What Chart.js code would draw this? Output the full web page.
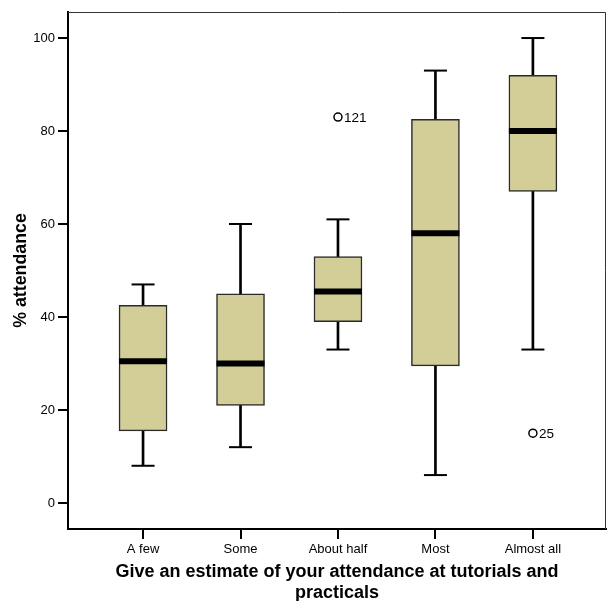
<!DOCTYPE html>
<html><head><meta charset="utf-8">
<script src="https://cdn.jsdelivr.net/npm/chart.js@4/dist/chart.umd.min.js"></script>
<style>html,body{margin:0;padding:0;background:#fff;}#wrap{width:607px;height:601px;}</style>
</head><body><div id="wrap"><canvas id="c"></canvas></div>
<script>
const categories = ["A few", "Some", "About half", "Most", "Almost all"];
const whiskerLow  = [8, 12, 33, 6, 33];
const q1          = [15.5, 21, 39, 29.5, 67];
const median      = [30.5, 30, 45.5, 58, 80];
const q3          = [42.5, 45, 53, 82.5, 92];
const whiskerHigh = [47, 60, 61, 93, 100];
const outlierCat   = [2, 4];
const outlierValue = [83, 15];
const outlierLabel = ["121", "25"];
const yTicks = [0, 20, 40, 60, 80, 100];

const FONT = 'Arial, "Liberation Sans", Helvetica, sans-serif';
const pos = i => i + 1;

const outlierLabels = {
  id: 'outlierLabels',
  afterDatasetsDraw(chart) {
    const ctx = chart.ctx;
    const meta = chart.getDatasetMeta(chart.data.datasets.findIndex(d => d.label === 'outliers'));
    ctx.save();
    ctx.font = '13.5px ' + FONT;
    ctx.fillStyle = '#000';
    ctx.textBaseline = 'middle';
    ctx.textAlign = 'left';
    meta.data.forEach((pt, i) => { ctx.fillText(outlierLabel[i], pt.x + 6, pt.y + 1); });
    const a = chart.chartArea;
    ctx.strokeStyle = '#333';
    ctx.lineWidth = 1;
    ctx.beginPath();
    ctx.moveTo(a.left, a.top + 0.5); ctx.lineTo(a.right - 0.5, a.top + 0.5); ctx.lineTo(a.right - 0.5, a.bottom);
    ctx.stroke();
    ctx.restore();
  }
};

new Chart(document.getElementById('c'), {
  data: {
    datasets: [
      { label: 'outliers', type: 'line', showLine: false, order: 0,
        data: outlierCat.map((c, i) => ({x: pos(c), y: outlierValue[i]})),
        pointStyle: 'circle', pointRadius: 4, pointBorderWidth: 1.5,
        pointBackgroundColor: '#fff', pointBorderColor: '#000' },
      { label: 'median', type: 'line', showLine: false, order: 1,
        data: median.map((v, i) => ({x: pos(i), y: v})),
        pointStyle: 'line', pointRadius: 24, pointBorderWidth: 6,
        pointBorderColor: '#000', pointBackgroundColor: '#000' },
      { label: 'box', type: 'bar', order: 2, grouped: false,
        data: q1.map((v, i) => ({x: pos(i), y: [v, q3[i]]})),
        barThickness: 48, backgroundColor: '#D3CE98', borderColor: '#2a2a2a',
        borderWidth: 1.5, borderSkipped: false },
      { label: 'whisker', type: 'bar', order: 3, grouped: false,
        data: whiskerLow.map((v, i) => ({x: pos(i), y: [v, whiskerHigh[i]]})),
        barThickness: 2, backgroundColor: '#000', borderWidth: 0 },
      { label: 'capLow', type: 'line', showLine: false, order: 4,
        data: whiskerLow.map((v, i) => ({x: pos(i), y: v})),
        pointStyle: 'line', pointRadius: 11.5, pointBorderWidth: 2, pointBorderColor: '#000' },
      { label: 'capHigh', type: 'line', showLine: false, order: 4,
        data: whiskerHigh.map((v, i) => ({x: pos(i), y: v})),
        pointStyle: 'line', pointRadius: 11.5, pointBorderWidth: 2, pointBorderColor: '#000' }
    ]
  },
  options: {
    responsive: true, maintainAspectRatio: false, animation: false,
    layout: { autoPadding: false, padding: { top: 12, right: 1, left: 0, bottom: 0 } },
    plugins: { legend: { display: false }, tooltip: { enabled: false } },
    elements: { point: { hoverRadius: 0 } },
    scales: {
      x: {
        type: 'linear', position: 'bottom', min: 0.23, max: 5.75, offset: false,
        afterFit: s => { s.height = 72; s.paddingLeft = 0; s.paddingRight = 0; },
        afterBuildTicks: s => { s.ticks = categories.map((c, i) => ({value: pos(i)})); },
        ticks: { callback: v => categories[v - 1], font: { family: FONT, size: 13 }, color: '#000', padding: 3, maxRotation: 0, autoSkip: false },
        grid: { offset: false, drawOnChartArea: false, drawTicks: true, tickLength: 10, color: '#000', lineWidth: 2 },
        border: { display: true, color: '#000', width: 2 },
        title: { display: true, text: ['Give an estimate of your attendance at tutorials and', 'practicals'],
                 font: { family: FONT, size: 18, weight: 'bold', lineHeight: '21px' }, color: '#000', padding: { top: 0, bottom: -3 } }
      },
      y: {
        type: 'linear', min: -5.6, max: 105.6,
        afterFit: s => { s.width = 68; s.paddingTop = 0; s.paddingBottom = 0; },
        afterBuildTicks: s => { s.ticks = yTicks.map(v => ({value: v})); },
        ticks: { font: { family: FONT, size: 13 }, color: '#000', padding: 3 },
        grid: { drawOnChartArea: false, drawTicks: true, tickLength: 10, color: '#000', lineWidth: 2 },
        border: { display: true, color: '#000', width: 2 },
        title: { display: true, text: '% attendance', font: { family: FONT, size: 17.8, weight: 'bold', lineHeight: '20px' }, color: '#000', padding: { top: 11, bottom: 0 } }
      }
    }
  },
  plugins: [outlierLabels]
});
</script></body></html>
